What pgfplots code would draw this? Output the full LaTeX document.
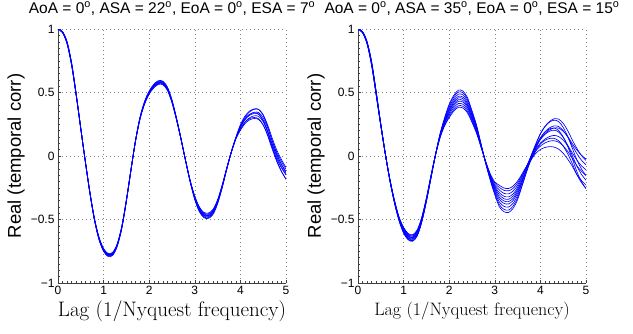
\documentclass[border=0pt]{standalone}
\usepackage{fontspec}
\usepackage{pgfplots}
\usepackage{pgfplotstable}
\pgfplotsset{compat=1.18}
\newfontfamily\hv{Liberation Sans}

\pgfplotstableread{
x c1 c2 c3 c4 c5 c6 c7 c8
0.0 1 1 1 1 1 1 1 1
0.1 0.980 0.978 0.977 0.975 0.975 0.973 0.972 0.970
0.2 0.899 0.896 0.894 0.891 0.889 0.886 0.884 0.881
0.3 0.731 0.728 0.724 0.721 0.719 0.716 0.712 0.709
0.4 0.487 0.485 0.483 0.481 0.479 0.477 0.475 0.473
0.5 0.218 0.217 0.216 0.215 0.215 0.214 0.213 0.212
0.6 -0.046 -0.045 -0.045 -0.045 -0.045 -0.045 -0.045 -0.044
0.7 -0.294 -0.293 -0.292 -0.290 -0.290 -0.288 -0.287 -0.286
0.8 -0.508 -0.505 -0.503 -0.501 -0.499 -0.497 -0.495 -0.493
0.9 -0.660 -0.657 -0.654 -0.651 -0.649 -0.646 -0.643 -0.640
1.0 -0.751 -0.748 -0.744 -0.741 -0.739 -0.736 -0.732 -0.729
1.1 -0.792 -0.788 -0.785 -0.781 -0.779 -0.775 -0.772 -0.768
1.2 -0.782 -0.778 -0.775 -0.771 -0.769 -0.765 -0.762 -0.758
1.3 -0.711 -0.707 -0.704 -0.701 -0.699 -0.696 -0.693 -0.690
1.4 -0.568 -0.566 -0.563 -0.561 -0.559 -0.557 -0.554 -0.552
1.5 -0.355 -0.354 -0.352 -0.351 -0.349 -0.348 -0.346 -0.345
1.6 -0.113 -0.112 -0.111 -0.110 -0.110 -0.109 -0.108 -0.107
1.7 0.123 0.122 0.121 0.120 0.120 0.119 0.118 0.117
1.8 0.308 0.305 0.303 0.301 0.299 0.297 0.295 0.293
1.9 0.431 0.427 0.424 0.421 0.419 0.416 0.413 0.410
2.0 0.513 0.509 0.505 0.501 0.499 0.495 0.491 0.488
2.1 0.564 0.560 0.556 0.551 0.549 0.544 0.540 0.536
2.2 0.593 0.588 0.584 0.579 0.577 0.572 0.568 0.564
2.3 0.589 0.585 0.581 0.576 0.574 0.569 0.565 0.561
2.4 0.543 0.539 0.535 0.531 0.529 0.525 0.521 0.517
2.5 0.441 0.438 0.434 0.431 0.429 0.426 0.422 0.419
2.6 0.297 0.295 0.293 0.291 0.289 0.287 0.285 0.283
2.7 0.133 0.132 0.131 0.130 0.130 0.129 0.128 0.127
2.8 -0.041 -0.041 -0.040 -0.040 -0.040 -0.040 -0.039 -0.039
2.9 -0.205 -0.204 -0.202 -0.201 -0.200 -0.198 -0.197 -0.195
3.0 -0.345 -0.340 -0.336 -0.331 -0.329 -0.324 -0.320 -0.315
3.1 -0.439 -0.433 -0.428 -0.422 -0.418 -0.412 -0.407 -0.401
3.2 -0.486 -0.480 -0.473 -0.467 -0.463 -0.457 -0.450 -0.444
3.3 -0.491 -0.485 -0.478 -0.472 -0.468 -0.462 -0.455 -0.449
3.4 -0.460 -0.454 -0.448 -0.442 -0.438 -0.432 -0.426 -0.420
3.5 -0.376 -0.371 -0.366 -0.362 -0.358 -0.354 -0.349 -0.344
3.6 -0.251 -0.248 -0.244 -0.241 -0.239 -0.236 -0.232 -0.229
3.7 -0.105 -0.103 -0.102 -0.100 -0.100 -0.098 -0.097 -0.096
3.8 0.031 0.031 0.031 0.030 0.030 0.029 0.029 0.029
3.9 0.146 0.144 0.143 0.141 0.139 0.137 0.136 0.134
4.0 0.247 0.235 0.238 0.226 0.226 0.212 0.211 0.202
4.1 0.314 0.295 0.305 0.286 0.288 0.265 0.268 0.254
4.2 0.353 0.328 0.347 0.320 0.326 0.294 0.301 0.284
4.3 0.371 0.340 0.367 0.334 0.344 0.303 0.316 0.295
4.4 0.367 0.331 0.367 0.328 0.342 0.293 0.312 0.288
4.5 0.320 0.279 0.325 0.282 0.300 0.245 0.270 0.244
4.6 0.229 0.185 0.242 0.195 0.219 0.158 0.191 0.165
4.7 0.116 0.069 0.138 0.088 0.118 0.052 0.093 0.066
4.8 0.014 -0.036 0.045 -0.009 0.027 -0.045 0.005 -0.023
4.9 -0.067 -0.120 -0.028 -0.086 -0.044 -0.122 -0.065 -0.093
5.0 -0.132 -0.184 -0.090 -0.146 -0.104 -0.180 -0.122 -0.148
}\tabL

\pgfplotstableread{
x c1 c2 c3 c4 c5 c6 c7 c8 c9 c10
0.0 1 1 1 1 1 1 1 1 1 1
0.1 0.980 0.979 0.978 0.976 0.975 0.975 0.974 0.972 0.971 0.970
0.2 0.899 0.897 0.895 0.893 0.891 0.889 0.887 0.885 0.883 0.881
0.3 0.740 0.737 0.733 0.729 0.726 0.724 0.721 0.717 0.713 0.711
0.4 0.505 0.502 0.498 0.494 0.491 0.489 0.486 0.482 0.478 0.475
0.5 0.252 0.251 0.249 0.247 0.246 0.244 0.243 0.241 0.239 0.238
0.6 0.016 0.016 0.015 0.015 0.015 0.015 0.015 0.015 0.014 0.014
0.7 -0.196 -0.195 -0.193 -0.192 -0.191 -0.189 -0.188 -0.187 -0.185 -0.184
0.8 -0.371 -0.369 -0.366 -0.363 -0.361 -0.359 -0.357 -0.354 -0.351 -0.349
0.9 -0.510 -0.507 -0.503 -0.499 -0.496 -0.494 -0.491 -0.487 -0.483 -0.480
1.0 -0.608 -0.604 -0.598 -0.592 -0.587 -0.583 -0.578 -0.572 -0.566 -0.562
1.1 -0.660 -0.655 -0.649 -0.643 -0.638 -0.632 -0.627 -0.621 -0.615 -0.610
1.2 -0.671 -0.666 -0.659 -0.653 -0.648 -0.642 -0.637 -0.631 -0.624 -0.619
1.3 -0.629 -0.624 -0.618 -0.612 -0.607 -0.603 -0.598 -0.592 -0.586 -0.581
1.4 -0.520 -0.516 -0.511 -0.506 -0.502 -0.498 -0.494 -0.489 -0.484 -0.480
1.5 -0.359 -0.356 -0.353 -0.349 -0.346 -0.344 -0.341 -0.337 -0.334 -0.331
1.6 -0.175 -0.173 -0.170 -0.168 -0.166 -0.164 -0.162 -0.160 -0.157 -0.155
1.7 0.011 0.011 0.010 0.010 0.010 0.010 0.010 0.010 0.009 0.009
1.8 0.176 0.173 0.169 0.165 0.162 0.158 0.155 0.151 0.147 0.144
1.9 0.302 0.296 0.288 0.280 0.273 0.267 0.260 0.252 0.244 0.238
2.0 0.408 0.398 0.384 0.371 0.360 0.350 0.339 0.326 0.312 0.302
2.1 0.477 0.465 0.449 0.434 0.421 0.409 0.396 0.381 0.365 0.353
2.2 0.518 0.504 0.487 0.470 0.457 0.443 0.430 0.413 0.396 0.383
2.3 0.512 0.498 0.482 0.465 0.452 0.438 0.425 0.408 0.392 0.378
2.4 0.460 0.448 0.433 0.418 0.406 0.394 0.382 0.367 0.352 0.340
2.5 0.357 0.347 0.336 0.324 0.315 0.305 0.296 0.284 0.273 0.264
2.6 0.242 0.235 0.227 0.219 0.213 0.207 0.201 0.193 0.185 0.179
2.7 0.092 0.090 0.087 0.084 0.081 0.079 0.076 0.073 0.070 0.068
2.8 -0.058 -0.056 -0.054 -0.052 -0.051 -0.049 -0.048 -0.046 -0.044 -0.043
2.9 -0.190 -0.185 -0.179 -0.172 -0.167 -0.163 -0.158 -0.151 -0.145 -0.140
3.0 -0.306 -0.296 -0.283 -0.270 -0.260 -0.250 -0.240 -0.227 -0.214 -0.204
3.1 -0.400 -0.383 -0.362 -0.341 -0.324 -0.306 -0.289 -0.268 -0.247 -0.230
3.2 -0.438 -0.420 -0.396 -0.373 -0.354 -0.336 -0.317 -0.294 -0.270 -0.252
3.3 -0.445 -0.426 -0.402 -0.378 -0.359 -0.341 -0.322 -0.298 -0.274 -0.256
3.4 -0.413 -0.395 -0.373 -0.351 -0.334 -0.316 -0.299 -0.277 -0.255 -0.237
3.5 -0.343 -0.328 -0.310 -0.292 -0.277 -0.263 -0.248 -0.230 -0.212 -0.197
3.6 -0.234 -0.228 -0.208 -0.202 -0.188 -0.185 -0.167 -0.158 -0.147 -0.140
3.7 -0.119 -0.122 -0.100 -0.106 -0.093 -0.101 -0.080 -0.081 -0.078 -0.079
3.8 -0.009 -0.024 0.007 -0.017 0.000 -0.028 0.005 -0.009 -0.016 -0.027
3.9 0.088 0.064 0.097 0.063 0.079 0.041 0.077 0.055 0.041 0.022
4.0 0.175 0.142 0.176 0.129 0.144 0.094 0.133 0.101 0.078 0.051
4.1 0.231 0.187 0.233 0.170 0.191 0.123 0.176 0.133 0.103 0.067
4.2 0.267 0.213 0.272 0.195 0.222 0.138 0.205 0.153 0.117 0.074
4.3 0.282 0.220 0.293 0.203 0.237 0.139 0.221 0.162 0.120 0.070
4.4 0.271 0.201 0.290 0.189 0.232 0.120 0.219 0.153 0.109 0.054
4.5 0.225 0.150 0.257 0.147 0.200 0.078 0.195 0.125 0.080 0.021
4.6 0.153 0.074 0.200 0.084 0.149 0.016 0.153 0.081 0.036 -0.025
4.7 0.061 -0.022 0.126 0.003 0.081 -0.061 0.097 0.024 -0.018 -0.081
4.8 -0.030 -0.123 0.060 -0.080 0.019 -0.147 0.048 -0.032 -0.077 -0.146
4.9 -0.102 -0.200 0.004 -0.144 -0.033 -0.209 0.006 -0.077 -0.120 -0.192
5.0 -0.154 -0.257 -0.035 -0.191 -0.070 -0.256 -0.023 -0.109 -0.153 -0.228
}\tabR

\pgfplotsset{
  myax/.style={
    scale only axis, width=228pt, height=254pt,
    xmin=0, xmax=5, ymin=-1, ymax=1,
    axis lines=left, axis line style={-, black!75, line width=0.5pt},
    xtick={0,1,2,3,4,5}, xticklabels={0,1,2,3,4,5},
    ytick={-1,-0.5,0,0.5,1}, yticklabels={−1,−0.5,0,0.5,1},
    minor x tick num=9, minor y tick num=9,
    tick align=inside, major tick length=3pt, minor tick length=2pt,
    tick style={black!75, line width=0.4pt},
    ticklabel style={font=\hv\fontsize{12}{14}\selectfont},
    grid=major,
    grid style={black!50, line width=0.45pt, dash pattern=on 0.6pt off 3.4pt},
    title style={font=\hv\fontsize{15.5}{18}\selectfont, at={(axis description cs:0.5,1)}, anchor=base, yshift=10pt},
    ylabel style={font=\hv\fontsize{18.5}{21}\selectfont, at={(axis description cs:-0.184,0.5)}, anchor=center},
    xlabel style={at={(axis description cs:0.5,-0.11)}, anchor=center},
  },
  cv/.style={blue, line width=0.65pt, smooth, mark=none},
}

\begin{document}
\begin{tikzpicture}
\useasboundingbox (0,0) rectangle (633pt,333pt);
\begin{axis}[myax, at={(58pt,50pt)}, anchor=south west,
  title={AoA = 0\textsuperscript{o}, ASA = 22\textsuperscript{o}, EoA = 0\textsuperscript{o}, ESA = 7\textsuperscript{o}},
  ylabel={Real (temporal corr)},
  xlabel={\fontsize{21}{24}\selectfont Lag (1/Nyquest frequency)}]
\addplot[cv] table[x=x,y=c1]{\tabL};
\addplot[cv] table[x=x,y=c2]{\tabL};
\addplot[cv] table[x=x,y=c3]{\tabL};
\addplot[cv] table[x=x,y=c4]{\tabL};
\addplot[cv] table[x=x,y=c5]{\tabL};
\addplot[cv] table[x=x,y=c6]{\tabL};
\addplot[cv] table[x=x,y=c7]{\tabL};
\addplot[cv] table[x=x,y=c8]{\tabL};
\end{axis}
\begin{axis}[myax, at={(358pt,50pt)}, anchor=south west,
  title={AoA = 0\textsuperscript{o}, ASA = 35\textsuperscript{o}, EoA = 0\textsuperscript{o}, ESA = 15\textsuperscript{o}},
  ylabel={Real (temporal corr)},
  xlabel={\fontsize{18}{21}\selectfont Lag (1/Nyquest frequency)}]
\addplot[cv] table[x=x,y=c1]{\tabR};
\addplot[cv] table[x=x,y=c2]{\tabR};
\addplot[cv] table[x=x,y=c3]{\tabR};
\addplot[cv] table[x=x,y=c4]{\tabR};
\addplot[cv] table[x=x,y=c5]{\tabR};
\addplot[cv] table[x=x,y=c6]{\tabR};
\addplot[cv] table[x=x,y=c7]{\tabR};
\addplot[cv] table[x=x,y=c8]{\tabR};
\addplot[cv] table[x=x,y=c9]{\tabR};
\addplot[cv] table[x=x,y=c10]{\tabR};
\end{axis}
\end{tikzpicture}
\end{document}
